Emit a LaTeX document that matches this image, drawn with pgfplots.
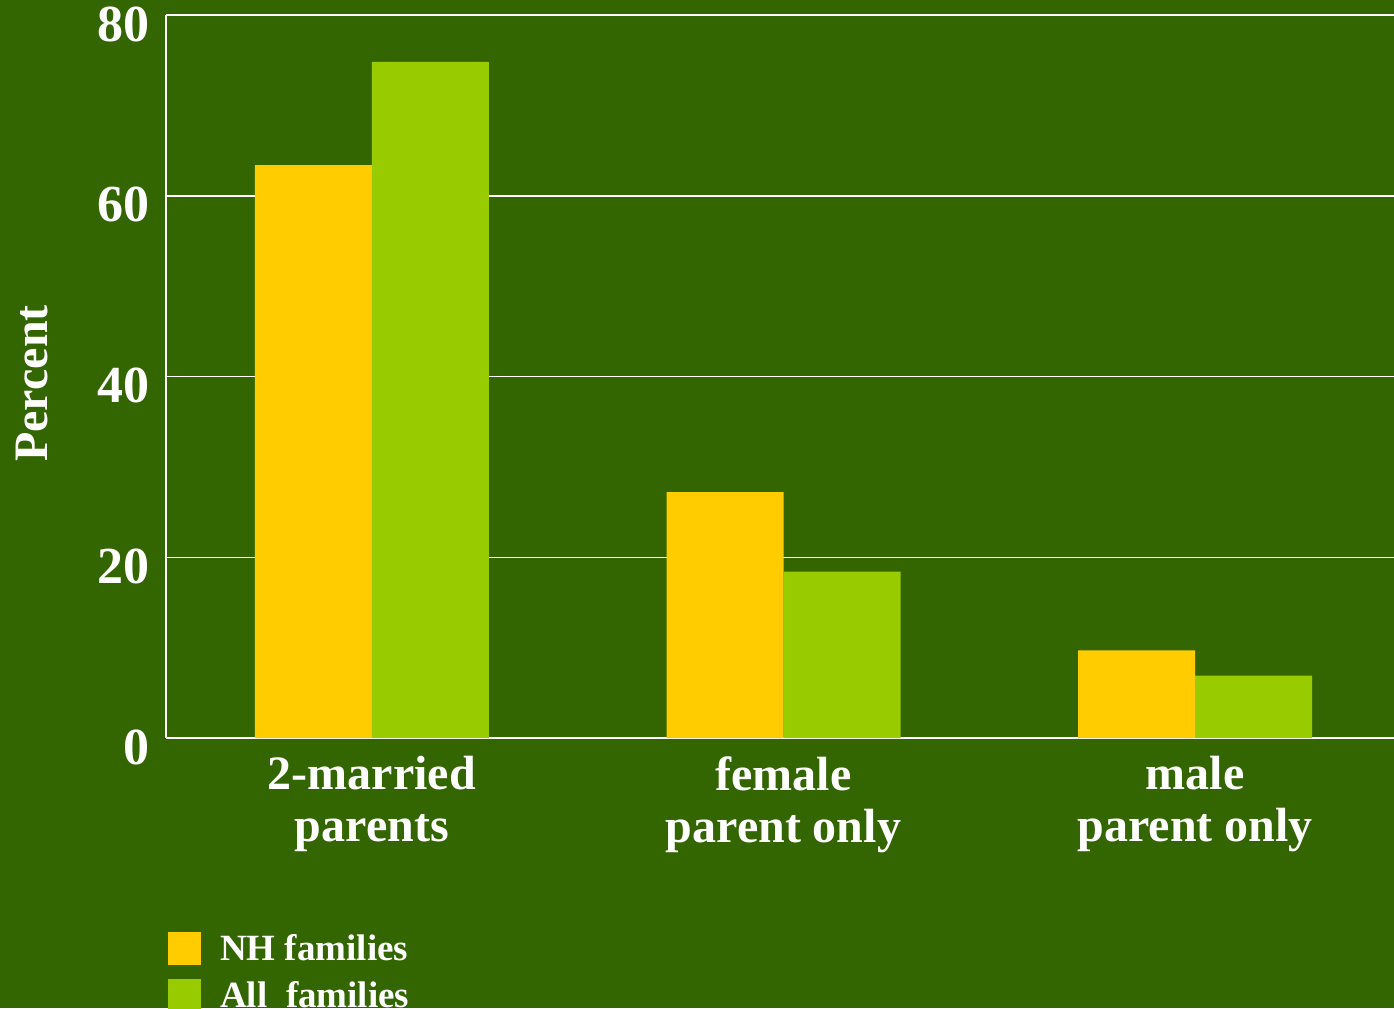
\documentclass[border=0pt]{standalone}
\usepackage{pgfplots}
\pgfplotsset{compat=1.18}
\usepackage{fontspec}
\setmainfont{Liberation Serif}
\definecolor{bg}{HTML}{336600}
\definecolor{nh}{HTML}{FFCC00}
\definecolor{allf}{HTML}{99CC00}
\begin{document}
\begin{tikzpicture}
\fill[bg] (0,0) rectangle (697pt,504pt);
\useasboundingbox (0,0) rectangle (697pt,504pt);
\begin{axis}[
  at={(83pt,135pt)}, anchor=south west,
  scale only axis, width=614pt, height=361.5pt,
  xmin=-0.5, xmax=2.483, ymin=0, ymax=80,
  ybar=0pt, bar width=58.5pt,
  axis line style={white, line width=0.75pt},
  axis x line*=bottom, axis y line*=left,
  ymajorgrids, grid style={white, line width=0.75pt},
  major tick length=0pt,
  ytick={0,20,40,60,80},
  xtick={0,1,2},
  xticklabels={2-married\\parents, female\\parent only, male\\parent only},
  font=\bfseries,
  /pgf/number format/assume math mode=true,
  yticklabel style={font=\fontsize{26}{28}\selectfont\bfseries, text=white, inner sep=0pt, xshift=-8pt, yshift=-4.5pt},
  xticklabel style={font=\fontsize{24}{26}\selectfont\bfseries, text=white, align=center, inner sep=0pt, yshift=-9pt},
  ylabel={Percent},
  ylabel style={font=\fontsize{24}{26}\selectfont\bfseries, text=white, at={(axis description cs:-0.109,0.4903)}, anchor=center},
  legend style={at={(axis description cs:0.0015,-0.268)}, anchor=north west, draw=none, fill=none,
    font=\fontsize{18.5}{20}\selectfont\bfseries, text=white, row sep=7pt, inner sep=0pt,
    nodes={inner sep=0pt}},
  legend cell align=left,
  /tikz/every odd column/.append style={column sep=9.5pt},
  legend image code/.code={\fill[#1] (0pt,-8.25pt) rectangle (16.5pt,8.25pt);},
  clip=false,
]
\addplot[fill=nh, draw=none] coordinates {(0,63.4) (1,27.2) (2,9.7)};
\addplot[fill=allf, draw=none] coordinates {(0,74.8) (1,18.4) (2,6.9)};
\legend{NH families, All\ \ families}
\end{axis}
\end{tikzpicture}
\end{document}
